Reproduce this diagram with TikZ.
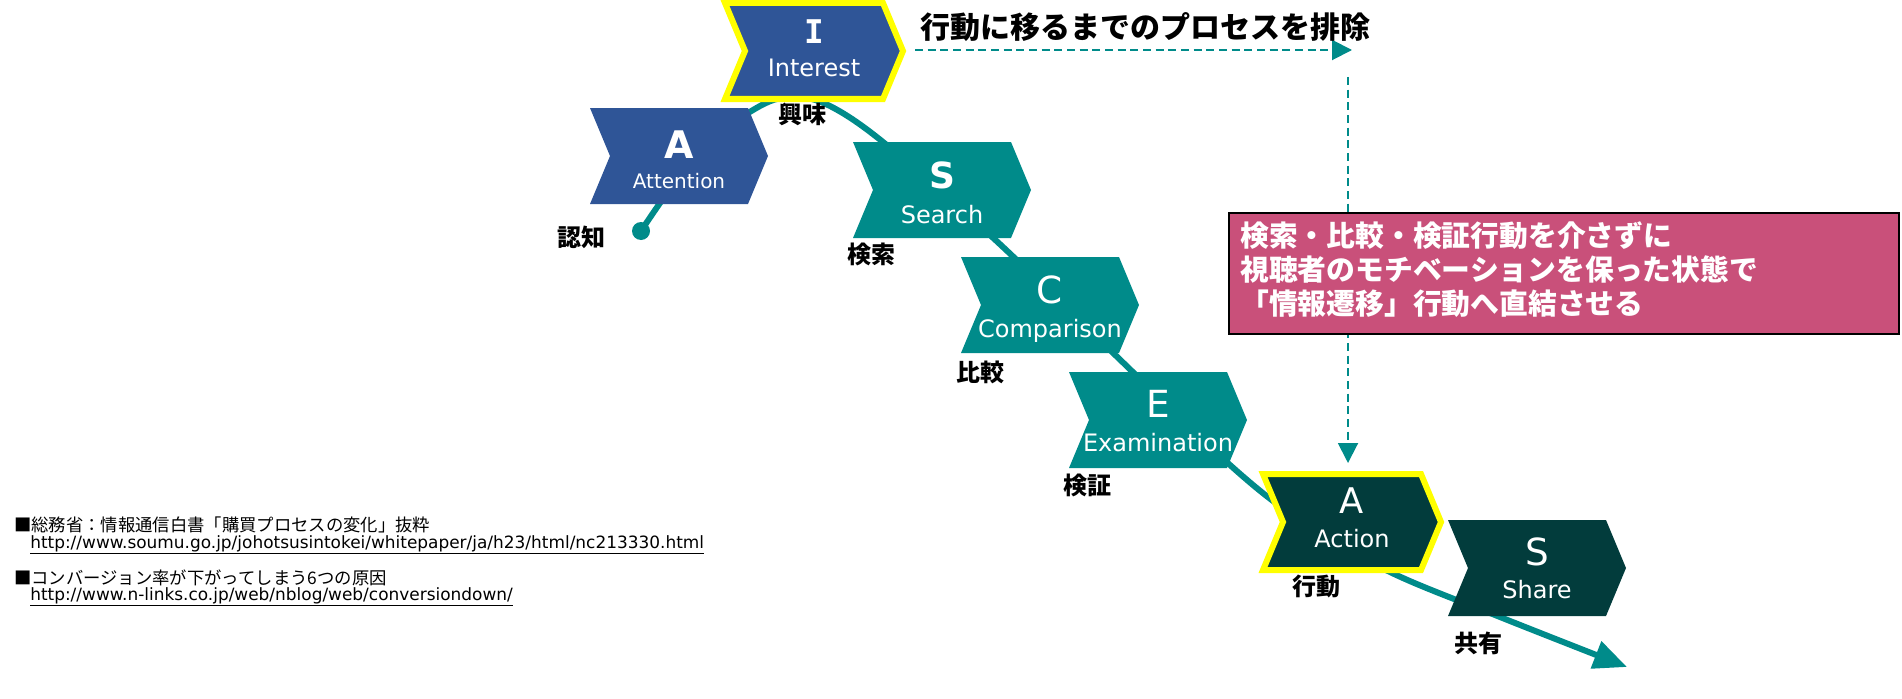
\documentclass[tikz,border=0pt]{standalone}
\usepackage{fontspec}
\setmainfont{DejaVu Sans}
\newfontfamily\jpfont{Noto Sans CJK JP}
\newfontfamily\slabfont{DejaVu Sans Mono}
\usetikzlibrary{arrows.meta}

\definecolor{stageblue}{RGB}{47,85,151}
\definecolor{stageteal}{RGB}{0,139,138}
\definecolor{stagedark}{RGB}{2,60,60}
\definecolor{notepink}{RGB}{201,80,122}
\definecolor{hiyellow}{RGB}{255,255,0}

\tikzset{
  chevron/.pic={
    \path[pic actions] (-89,-48) -- (69,-48) -- (89,0) -- (69,48) -- (-89,48) -- (-69,0) -- cycle;
  },
  highlight/.style={draw=hiyellow, line width=4.5pt},
  letter/.style={text=white, anchor=base, inner sep=0pt, font=\fontsize{28}{30}\selectfont},
  word/.style={text=white, anchor=base, inner sep=0pt, font=\fontsize{18}{20}\selectfont},
  stagelabel/.style={inner sep=0pt, font=\jpfont\bfseries\fontsize{18}{20}\selectfont},
  flowline/.style={stageteal, line width=4.5pt, -{Triangle[length=25pt, width=21pt]}},
  skipline/.style={stageteal, line width=1.5pt, dash pattern=on 6pt off 3.5pt, -{Triangle[length=15pt, width=15pt]}},
  notebox/.style={anchor=north west, fill=notepink, draw=black, line width=1.5pt,
    minimum width=502.5pt, minimum height=90.75pt, inner sep=0pt},
  notetext/.style={anchor=west, inner sep=0pt, align=left, text=white,
    font=\jpfont\bfseries\fontsize{21.6}{25.5}\selectfont},
  footnote/.style={anchor=west, inner sep=0pt, font=\jpfont\fontsize{13}{15}\selectfont},
  urlnote/.style={anchor=base west, inner sep=0pt, font=\fontsize{12.7}{14}\selectfont},
}

\begin{document}
\begin{tikzpicture}[x=0.75pt, y=-0.75pt]
    \useasboundingbox (0,0) rectangle (1902,699);

    % flow curve behind the stages
    \node[circle, fill=stageteal, minimum size=13.5pt, inner sep=0pt] (start) at (641,231) {};
    \coordinate (finish) at (1627,667);
    \draw[flowline] plot[smooth, tension=0.55] coordinates {(start.center) (700,150) (760,106) (795,97) (830,106) (883,142) (990,235) (1110,350) (1230,465) (1300,520) (1390,572) (1500,617) (finish)};

    % skipped process
    \coordinate (skipfrom) at (915,50);
    \coordinate (skipto) at (1352,50);
    \coordinate (downfrom) at (1348,77);
    \coordinate (downto) at (1348,463);
    \draw[skipline] (skipfrom) -- (skipto);
    \draw[skipline] (downfrom) -- (downto);
    \node[inner sep=0pt, font=\jpfont\bfseries\fontsize{22.5}{26}\selectfont] (skiptitle) at (1145,27) {行動に移るまでのプロセスを排除};

    % stages
    \pic[fill=stageblue] at (679,156) {chevron};
    \node[letter, font=\bfseries\fontsize{28.5}{30}\selectfont] (attention-l) at (679,158) {A};
    \node[word, font=\fontsize{15}{17}\selectfont] (attention-w) at (679,188) {Attention};

    \pic[fill=stageblue, highlight] at (814,51) {chevron};
    \node[letter, font=\slabfont\bfseries\fontsize{24.5}{26}\selectfont] (interest-l) at (814,44) {I};
    \node[word] (interest-w) at (814,77) {Interest};

    \pic[fill=stageteal] at (942,190) {chevron};
    \node[letter, font=\bfseries\fontsize{27}{30}\selectfont] (search-l) at (942,188) {S};
    \node[word] (search-w) at (942,223) {Search};

    \pic[fill=stageteal] at (1050,305) {chevron};
    \node[letter] (comparison-l) at (1050,303) {C};
    \node[word] (comparison-w) at (1050,337) {Comparison};

    \pic[fill=stageteal] at (1158,420) {chevron};
    \node[letter] (examination-l) at (1158,417) {E};
    \node[word] (examination-w) at (1158,451) {Examination};

    \pic[fill=stagedark, highlight] at (1352,522) {chevron};
    \node[letter, font=\fontsize{26.5}{30}\selectfont] (action-l) at (1352,513) {A};
    \node[word] (action-w) at (1352,547) {Action};

    \pic[fill=stagedark] at (1537,568) {chevron};
    \node[letter] (share-l) at (1537,565) {S};
    \node[word] (share-w) at (1537,598) {Share};

    % stage labels
    \node[stagelabel] (ninchi) at (581,237) {認知};
    \node[stagelabel] (kyoumi) at (802,114) {興味};
    \node[stagelabel] (kensaku) at (871,254) {検索};
    \node[stagelabel] (hikaku) at (980,372) {比較};
    \node[stagelabel] (kenshou) at (1087,485) {検証};
    \node[stagelabel] (koudou) at (1316,586) {行動};
    \node[stagelabel] (kyouyuu) at (1478,643) {共有};

    % note
    \node[notebox] (note) at (1228,212) {};
    \node[notetext] (notetext) at ([xshift=9pt, yshift=3pt]note.west) {検索・比較・検証行動を介さずに\\視聴者のモチベーションを保った状態で\\「情報遷移」行動へ直結させる};

    % sources
    \node[footnote] (src1) at (14,525) {■総務省：情報通信白書「購買プロセスの変化」抜粋};
    \node[urlnote] (url1) at (30,548) {\underline{http://www.soumu.go.jp/johotsusintokei/whitepaper/ja/h23/html/nc213330.html}};
    \node[footnote] (src2) at (14,578) {■コンバージョン率が下がってしまう6つの原因};
    \node[urlnote] (url2) at (30,600) {\underline{http://www.n-links.co.jp/web/nblog/web/conversiondown/}};
\end{tikzpicture}
\end{document}
